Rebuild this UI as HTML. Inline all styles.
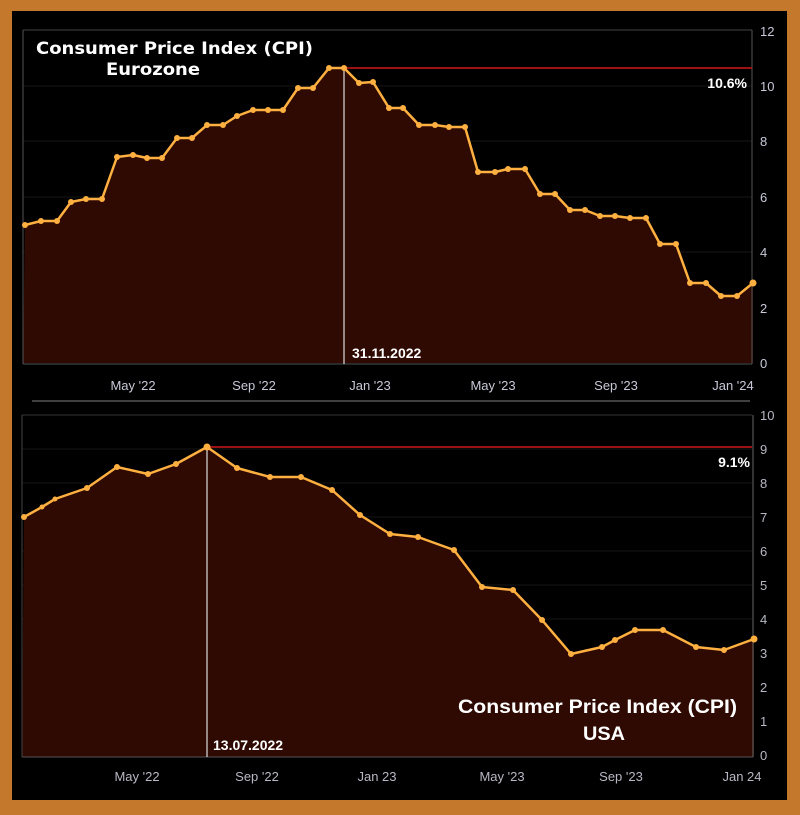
<!DOCTYPE html>
<html><head><meta charset="utf-8"><style>
html,body{margin:0;padding:0;background:#c4782c;}
svg{display:block}
</style></head><body>
<svg width="800" height="815" xmlns="http://www.w3.org/2000/svg" font-family="Liberation Sans, sans-serif">
<rect width="800" height="815" fill="#c4782c"/>
<rect x="12" y="11" width="775" height="789" fill="#000"/>
<!-- TOP CHART -->
<g stroke="#161616" stroke-width="1">
<line x1="23" y1="86" x2="752" y2="86"/><line x1="23" y1="141" x2="752" y2="141"/><line x1="23" y1="197" x2="752" y2="197"/><line x1="23" y1="252" x2="752" y2="252"/><line x1="23" y1="308" x2="752" y2="308"/>
</g>
<polygon fill="#2e0a02" points="23,363 25,225 41,221 57,221 71,202 86,199 102,199 117,157 133,155 147,158 162,158 177,138 192,138 207,125 223,125 237,116 253,110 268,110 283,110 298,88 313,88 329,68 344,68 359,83 373,82 389,108 403,108 419,125 435,125 449,127 465,127 478,172 495,172 508,169 525,169 540,194 555,194 570,210 585,210 600,216 615,216 630,218 646,218 660,244 676,244 690,283 706,283 721,296 737,296 753,283 753,363"/>
<line x1="23" y1="30" x2="752" y2="30" stroke="#444"/>
<line x1="23" y1="30" x2="23" y2="364" stroke="#555"/>
<line x1="752" y1="30" x2="752" y2="364" stroke="#555"/>
<line x1="23" y1="364" x2="752" y2="364" stroke="#555"/>
<line x1="344" y1="68" x2="752" y2="68" stroke="#d01818" stroke-width="1.5"/>
<line x1="344" y1="68" x2="344" y2="364" stroke="#ddd" stroke-width="1.2"/>
<polyline fill="none" stroke="#ffb040" stroke-width="2.5" stroke-linejoin="round" points="25,225 41,221 57,221 71,202 86,199 102,199 117,157 133,155 147,158 162,158 177,138 192,138 207,125 223,125 237,116 253,110 268,110 283,110 298,88 313,88 329,68 344,68 359,83 373,82 389,108 403,108 419,125 435,125 449,127 465,127 478,172 495,172 508,169 525,169 540,194 555,194 570,210 585,210 600,216 615,216 630,218 646,218 660,244 676,244 690,283 706,283 721,296 737,296 753,283"/>
<g fill="#ffb040">
<circle cx="25" cy="225" r="3"/><circle cx="41" cy="221" r="3"/><circle cx="57" cy="221" r="3"/><circle cx="71" cy="202" r="3"/><circle cx="86" cy="199" r="3"/><circle cx="102" cy="199" r="3"/><circle cx="117" cy="157" r="3"/><circle cx="133" cy="155" r="3"/><circle cx="147" cy="158" r="3"/><circle cx="162" cy="158" r="3"/><circle cx="177" cy="138" r="3"/><circle cx="192" cy="138" r="3"/><circle cx="207" cy="125" r="3"/><circle cx="223" cy="125" r="3"/><circle cx="237" cy="116" r="3"/><circle cx="253" cy="110" r="3"/><circle cx="268" cy="110" r="3"/><circle cx="283" cy="110" r="3"/><circle cx="298" cy="88" r="3"/><circle cx="313" cy="88" r="3"/><circle cx="329" cy="68" r="3"/><circle cx="344" cy="68" r="3"/><circle cx="359" cy="83" r="3"/><circle cx="373" cy="82" r="3"/><circle cx="389" cy="108" r="3"/><circle cx="403" cy="108" r="3"/><circle cx="419" cy="125" r="3"/><circle cx="435" cy="125" r="3"/><circle cx="449" cy="127" r="3"/><circle cx="465" cy="127" r="3"/><circle cx="478" cy="172" r="3"/><circle cx="495" cy="172" r="3"/><circle cx="508" cy="169" r="3"/><circle cx="525" cy="169" r="3"/><circle cx="540" cy="194" r="3"/><circle cx="555" cy="194" r="3"/><circle cx="570" cy="210" r="3"/><circle cx="585" cy="210" r="3"/><circle cx="600" cy="216" r="3"/><circle cx="615" cy="216" r="3"/><circle cx="630" cy="218" r="3"/><circle cx="646" cy="218" r="3"/><circle cx="660" cy="244" r="3"/><circle cx="676" cy="244" r="3"/><circle cx="690" cy="283" r="3"/><circle cx="706" cy="283" r="3"/><circle cx="721" cy="296" r="3"/><circle cx="737" cy="296" r="3"/><circle cx="753" cy="283" r="3.5"/>
</g>
<g fill="#c8c8d8" font-size="13">
<text x="760" y="36">12</text><text x="760" y="91">10</text><text x="760" y="146">8</text><text x="760" y="202">6</text><text x="760" y="257">4</text><text x="760" y="313">2</text><text x="760" y="368">0</text>
</g>
<g fill="#c8c8d8" font-size="13" text-anchor="middle">
<text x="133" y="390">May '22</text><text x="254" y="390">Sep '22</text><text x="370" y="390">Jan '23</text><text x="493" y="390">May '23</text><text x="616" y="390">Sep '23</text><text x="733" y="390">Jan '24</text>
</g>
<g fill="#fff" font-weight="bold">
<text x="36" y="54" font-size="17" font-family="DejaVu Sans, sans-serif" textLength="277" lengthAdjust="spacingAndGlyphs">Consumer Price Index (CPI)</text>
<text x="106" y="75" font-size="17" font-family="DejaVu Sans, sans-serif" textLength="94" lengthAdjust="spacingAndGlyphs">Eurozone</text>
<text x="352" y="358" font-size="14">31.11.2022</text>
<text x="747" y="88" font-size="14" text-anchor="end">10.6%</text>
</g>
<line x1="32" y1="401" x2="750" y2="401" stroke="#555" stroke-width="1.5"/>
<!-- BOTTOM CHART -->
<g stroke="#161616">
<line x1="22" y1="449" x2="752" y2="449"/><line x1="22" y1="483" x2="752" y2="483"/><line x1="22" y1="517" x2="752" y2="517"/><line x1="22" y1="551" x2="752" y2="551"/><line x1="22" y1="585" x2="752" y2="585"/><line x1="22" y1="619" x2="752" y2="619"/><line x1="22" y1="653" x2="752" y2="653"/><line x1="22" y1="687" x2="752" y2="687"/><line x1="22" y1="721" x2="752" y2="721"/>
</g>
<polygon fill="#2e0a02" points="22,757 24,517 42,507 55,499 87,488 117,467 148,474 176,464 207,447 237,468 270,477 301,477 332,490 360,515 390,534 418,537 454,550 482,587 513,590 542,620 571,654 602,647 615,640 635,630 663,630 696,647 724,650 754,639 754,757"/>
<line x1="22" y1="415" x2="752" y2="415" stroke="#333"/>
<line x1="22" y1="415" x2="22" y2="757" stroke="#444"/>
<line x1="753" y1="415" x2="753" y2="757" stroke="#666"/>
<line x1="22" y1="757" x2="753" y2="757" stroke="#555"/>
<line x1="207" y1="447" x2="752" y2="447" stroke="#d01818" stroke-width="1.5"/>
<line x1="207" y1="447" x2="207" y2="757" stroke="#ddd" stroke-width="1.2"/>
<polyline fill="none" stroke="#ffb040" stroke-width="2.5" stroke-linejoin="round" points="24,517 42,507 55,499 87,488 117,467 148,474 176,464 207,447 237,468 270,477 301,477 332,490 360,515 390,534 418,537 454,550 482,587 513,590 542,620 571,654 602,647 615,640 635,630 663,630 696,647 724,650 754,639"/>
<g fill="#ffb040">
<circle cx="24" cy="517" r="3"/><circle cx="42" cy="507" r="2.5"/><circle cx="55" cy="499" r="2.5"/><circle cx="87" cy="488" r="3"/><circle cx="117" cy="467" r="3"/><circle cx="148" cy="474" r="3"/><circle cx="176" cy="464" r="3"/><circle cx="207" cy="447" r="3.5"/><circle cx="237" cy="468" r="3"/><circle cx="270" cy="477" r="3"/><circle cx="301" cy="477" r="3"/><circle cx="332" cy="490" r="3"/><circle cx="360" cy="515" r="3"/><circle cx="390" cy="534" r="3"/><circle cx="418" cy="537" r="3"/><circle cx="454" cy="550" r="3"/><circle cx="482" cy="587" r="3"/><circle cx="513" cy="590" r="3"/><circle cx="542" cy="620" r="3"/><circle cx="571" cy="654" r="3"/><circle cx="602" cy="647" r="3"/><circle cx="615" cy="640" r="3"/><circle cx="635" cy="630" r="3"/><circle cx="663" cy="630" r="3"/><circle cx="696" cy="647" r="3"/><circle cx="724" cy="650" r="3"/><circle cx="754" cy="639" r="3.5"/>
</g>
<g fill="#b8b8c4" font-size="13">
<text x="760" y="420">10</text><text x="760" y="454">9</text><text x="760" y="488">8</text><text x="760" y="522">7</text><text x="760" y="556">6</text><text x="760" y="590">5</text><text x="760" y="624">4</text><text x="760" y="658">3</text><text x="760" y="692">2</text><text x="760" y="726">1</text><text x="760" y="760">0</text>
</g>
<g fill="#b8b8c4" font-size="13" text-anchor="middle">
<text x="137" y="781">May '22</text><text x="257" y="781">Sep '22</text><text x="377" y="781">Jan 23</text><text x="502" y="781">May '23</text><text x="621" y="781">Sep '23</text><text x="742" y="781">Jan 24</text>
</g>
<g fill="#fff" font-weight="bold">
<text x="458" y="713" font-size="19" textLength="279" lengthAdjust="spacingAndGlyphs">Consumer Price Index (CPI)</text>
<text x="583" y="740" font-size="19" textLength="42" lengthAdjust="spacingAndGlyphs">USA</text>
<text x="213" y="750" font-size="14">13.07.2022</text>
<text x="750" y="467" font-size="14" text-anchor="end">9.1%</text>
</g>
</svg>
</body></html>
